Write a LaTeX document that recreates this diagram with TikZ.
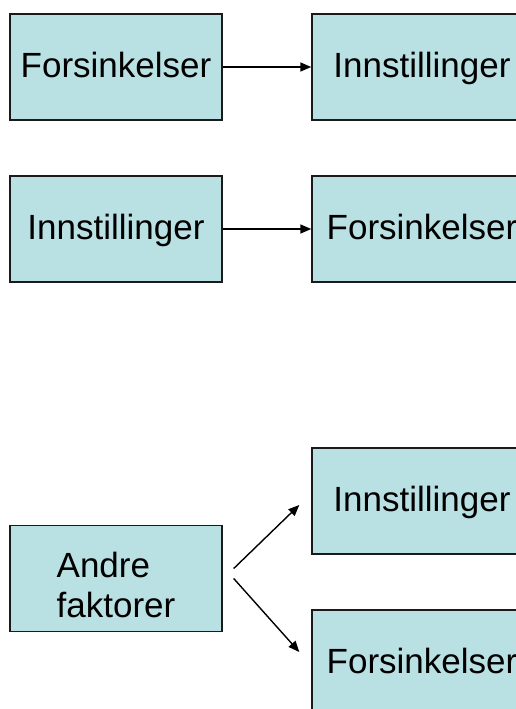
\documentclass[tikz,border=0pt]{standalone}
\usepackage{fontspec}
\setmainfont{Liberation Sans}
\usetikzlibrary{arrows.meta}
\definecolor{cfill}{HTML}{B9E0E3}
\definecolor{cline}{HTML}{1A1A1A}

\begin{document}
\begin{tikzpicture}[x=1pt,y=-1pt,
  box/.style={draw=cline,fill=cfill,line width=1.4pt,minimum width=212pt,minimum height=106pt,
    inner sep=0pt,font=\fontsize{35}{40}\selectfont},
  one/.style={text height=25pt,text depth=4pt},
  arr/.style={-{Triangle[length=11pt,width=9pt]},line width=1.4pt}]
  \useasboundingbox (0,0) rectangle (515,709);
  \node[box,one] (fors1) at (116,67) {Forsinkelser\hspace{12pt}};
  \node[box,one,minimum width=220pt] (inn1) at (422,67) {Innstillinger};
  \node[box,one] (inn2) at (116,229) {Innstillinger};
  \node[box,one,minimum width=220pt] (fors2) at (422,229) {Forsinkelser};
  \node[box,align=left] (andre) at (116,578.5) {\rule{0pt}{39pt}Andre\\faktorer};
  \node[box,one,minimum width=220pt] (inn3) at (422,501) {Innstillinger};
  \node[box,one,minimum width=220pt] (fors3) at (422,663) {Forsinkelser};
  \draw[arr] (fors1) -- (inn1);
  \draw[arr] (inn2) -- (fors2);
  \draw[arr] ([shift={(11,-10)}]andre.east) -- ([shift={(-12,4)}]inn3.west);
  \draw[arr] ([shift={(11,0)}]andre.east) -- ([shift={(-12,-11)}]fors3.west);
\end{tikzpicture}
\end{document}
